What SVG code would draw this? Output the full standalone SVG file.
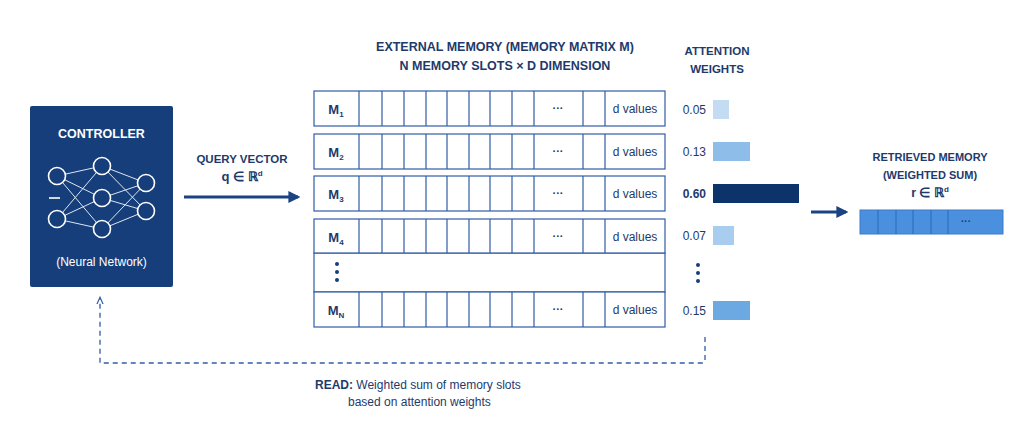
<svg xmlns="http://www.w3.org/2000/svg" width="1024" height="439" viewBox="0 0 1024 439">
<defs>
<style>
.t{font-family:"Liberation Sans",Arial,sans-serif;fill:#1e3a6b}
.b{font-weight:bold}
.cell{fill:#fff;stroke:#2f5da5;stroke-width:1.2}
.grid{stroke:#2f5da5;stroke-width:1.2}
.nn{fill:#163e7a;stroke:#fff;stroke-width:1.6}
.nl{stroke:#dfe6f1;stroke-width:1}
.dot{fill:#163e7a}
</style>
<marker id="ah" viewBox="0 0 10 10" refX="8" refY="5" markerWidth="4" markerHeight="4" orient="auto"><path d="M0,0L10,5L0,10z" fill="#1b4384"/></marker>
<marker id="ah2" viewBox="0 0 10 10" refX="8" refY="5" markerWidth="6" markerHeight="6" orient="auto"><path d="M0,1L9,5L0,9" fill="none" stroke="#2f5da5" stroke-width="1.5"/></marker>
</defs>
<rect width="1024" height="439" fill="#fff"/>
<g id="controller">
<rect x="30" y="106" width="143" height="181" fill="#163e7a" rx="2"/>
<text x="101.5" y="138" text-anchor="middle" class="t b" font-size="12.5" style="fill:#fff">CONTROLLER</text>
<g class="nl">
<line x1="57" y1="176" x2="102" y2="166"/><line x1="57" y1="176" x2="102" y2="198"/><line x1="57" y1="176" x2="102" y2="229"/>
<line x1="57" y1="219" x2="102" y2="166"/><line x1="57" y1="219" x2="102" y2="198"/><line x1="57" y1="219" x2="102" y2="229"/>
<line x1="102" y1="166" x2="146" y2="183"/><line x1="102" y1="166" x2="146" y2="211"/><line x1="102" y1="198" x2="146" y2="183"/><line x1="102" y1="198" x2="146" y2="211"/>
<line x1="102" y1="229" x2="146" y2="183"/><line x1="102" y1="229" x2="146" y2="211"/>
</g>
<g class="nn">
<circle cx="57" cy="176" r="8.5"/><circle cx="57" cy="219" r="8.5"/>
<circle cx="102" cy="166" r="8.5"/><circle cx="102" cy="198" r="8.5"/><circle cx="102" cy="229" r="8.5"/>
<circle cx="146" cy="183" r="8.5"/><circle cx="146" cy="211" r="8.5"/>
</g>
<line x1="49" y1="198" x2="60" y2="198" stroke="#fff" stroke-width="1.6"/>
<text x="101.5" y="266" text-anchor="middle" class="t" font-size="12" style="fill:#fff">(Neural Network)</text>
</g>
<g id="query-label">
<text x="242" y="163" text-anchor="middle" class="t b" font-size="11.5">QUERY VECTOR</text>
<text x="242" y="181" text-anchor="middle" class="t b" font-size="13">q ∈ ℝ<tspan font-size="8" dy="-5">d</tspan></text>
</g>
<g id="memory-title">
<text x="505" y="51" text-anchor="middle" class="t b" font-size="12.5">EXTERNAL MEMORY (MEMORY MATRIX M)</text>
<text x="505" y="70" text-anchor="middle" class="t b" font-size="12.5">N MEMORY SLOTS × D DIMENSION</text>
</g>
<g id="gap-row">
<rect x="314" y="253" width="351" height="39" class="cell"/>
<circle cx="337" cy="264" r="2" class="dot"/><circle cx="337" cy="272" r="2" class="dot"/><circle cx="337" cy="280" r="2" class="dot"/>
</g>
<g id="slots">
<g id="slot1" transform="translate(0,91)">
<rect x="314" y="0" width="351" height="35" class="cell"/>
<path d="M359 0V35M382 0V35M404 0V35M426 0V35M447 0V35M469 0V35M490 0V35M512 0V35M534 0V35M583 0V35M605 0V35" class="grid"/>
<text x="336" y="23" text-anchor="middle" class="t b" font-size="13">M<tspan font-size="8" dy="3">1</tspan></text>
<text x="558" y="21" text-anchor="middle" class="t b" font-size="11">···</text>
<text x="635" y="22" text-anchor="middle" class="t" font-size="12">d values</text>
</g>
<g id="slot2" transform="translate(0,134)">
<rect x="314" y="0" width="351" height="35" class="cell"/>
<path d="M359 0V35M382 0V35M404 0V35M426 0V35M447 0V35M469 0V35M490 0V35M512 0V35M534 0V35M583 0V35M605 0V35" class="grid"/>
<text x="336" y="23" text-anchor="middle" class="t b" font-size="13">M<tspan font-size="8" dy="3">2</tspan></text>
<text x="558" y="21" text-anchor="middle" class="t b" font-size="11">···</text>
<text x="635" y="22" text-anchor="middle" class="t" font-size="12">d values</text>
</g>
<g id="slot3" transform="translate(0,176)">
<rect x="314" y="0" width="351" height="35" class="cell"/>
<path d="M359 0V35M382 0V35M404 0V35M426 0V35M447 0V35M469 0V35M490 0V35M512 0V35M534 0V35M583 0V35M605 0V35" class="grid"/>
<text x="336" y="23" text-anchor="middle" class="t b" font-size="13">M<tspan font-size="8" dy="3">3</tspan></text>
<text x="558" y="21" text-anchor="middle" class="t b" font-size="11">···</text>
<text x="635" y="22" text-anchor="middle" class="t" font-size="12">d values</text>
</g>
<g id="slot4" transform="translate(0,219)">
<rect x="314" y="0" width="351" height="34" class="cell"/>
<path d="M359 0V34M382 0V34M404 0V34M426 0V34M447 0V34M469 0V34M490 0V34M512 0V34M534 0V34M583 0V34M605 0V34" class="grid"/>
<text x="336" y="23" text-anchor="middle" class="t b" font-size="13">M<tspan font-size="8" dy="3">4</tspan></text>
<text x="558" y="21" text-anchor="middle" class="t b" font-size="11">···</text>
<text x="635" y="22" text-anchor="middle" class="t" font-size="12">d values</text>
</g>
<g id="slotN" transform="translate(0,292)">
<rect x="314" y="0" width="351" height="35" class="cell"/>
<path d="M359 0V35M382 0V35M404 0V35M426 0V35M447 0V35M469 0V35M490 0V35M512 0V35M534 0V35M583 0V35M605 0V35" class="grid"/>
<text x="336" y="23" text-anchor="middle" class="t b" font-size="13">M<tspan font-size="8" dy="3">N</tspan></text>
<text x="558" y="21" text-anchor="middle" class="t b" font-size="11">···</text>
<text x="635" y="22" text-anchor="middle" class="t" font-size="12">d values</text>
</g>
</g>
<g id="attn">
<text x="717" y="55" text-anchor="middle" class="t b" font-size="11.5">ATTENTION</text>
<text x="717" y="73" text-anchor="middle" class="t b" font-size="11.5">WEIGHTS</text>
<text x="706" y="114" text-anchor="end" class="t" font-size="12">0.05</text>
<rect x="713" y="100" width="16" height="19" fill="#c4dcf2"/>
<text x="706" y="156" text-anchor="end" class="t" font-size="12">0.13</text>
<rect x="713" y="142" width="37" height="19" fill="#8dbde8"/>
<text x="706" y="198" text-anchor="end" class="t b" font-size="12">0.60</text>
<rect x="713" y="184" width="86" height="19" fill="#0d336b"/>
<text x="706" y="240" text-anchor="end" class="t" font-size="12">0.07</text>
<rect x="713" y="226" width="21" height="19" fill="#a9cdef"/>
<circle cx="698" cy="265" r="2" class="dot"/><circle cx="698" cy="273" r="2" class="dot"/><circle cx="698" cy="281" r="2" class="dot"/>
<text x="706" y="315" text-anchor="end" class="t" font-size="12">0.15</text>
<rect x="713" y="301" width="37" height="19" fill="#6ca8e2"/>
</g>
<g id="retrieved">
<text x="930" y="161" text-anchor="middle" class="t b" font-size="11">RETRIEVED MEMORY</text>
<text x="930" y="179" text-anchor="middle" class="t b" font-size="11">(WEIGHTED SUM)</text>
<text x="930" y="197" text-anchor="middle" class="t b" font-size="12.5">r ∈ ℝ<tspan font-size="8" dy="-5">d</tspan></text>
<rect x="860" y="210" width="143" height="24" fill="#4a90de" stroke="#3a7cc8"/>
<g stroke="#2a68b0" stroke-width="1"><line x1="878" y1="210" x2="878" y2="234"/><line x1="896" y1="210" x2="896" y2="234"/><line x1="913" y1="210" x2="913" y2="234"/><line x1="931" y1="210" x2="931" y2="234"/><line x1="948" y1="210" x2="948" y2="234"/></g>
<text x="966" y="225" text-anchor="middle" class="t b" font-size="10">···</text>
</g>
<g id="read-label">
<text x="315" y="389" class="t" font-size="12"><tspan font-weight="bold">READ:</tspan> Weighted sum of memory slots</text>
<text x="348" y="406" class="t" font-size="12">based on attention weights</text>
</g>
<g id="connectors">
<line x1="184" y1="197" x2="298" y2="197" stroke="#1b4384" stroke-width="3" marker-end="url(#ah)"/>
<line x1="811" y1="212" x2="846" y2="212" stroke="#1b4384" stroke-width="3" marker-end="url(#ah)"/>
<path d="M705,337V360Q705,363 702,363H100V298" fill="none" stroke="#2f5da5" stroke-width="1.3" stroke-dasharray="5,4" marker-end="url(#ah2)"/>
</g>
</svg>
